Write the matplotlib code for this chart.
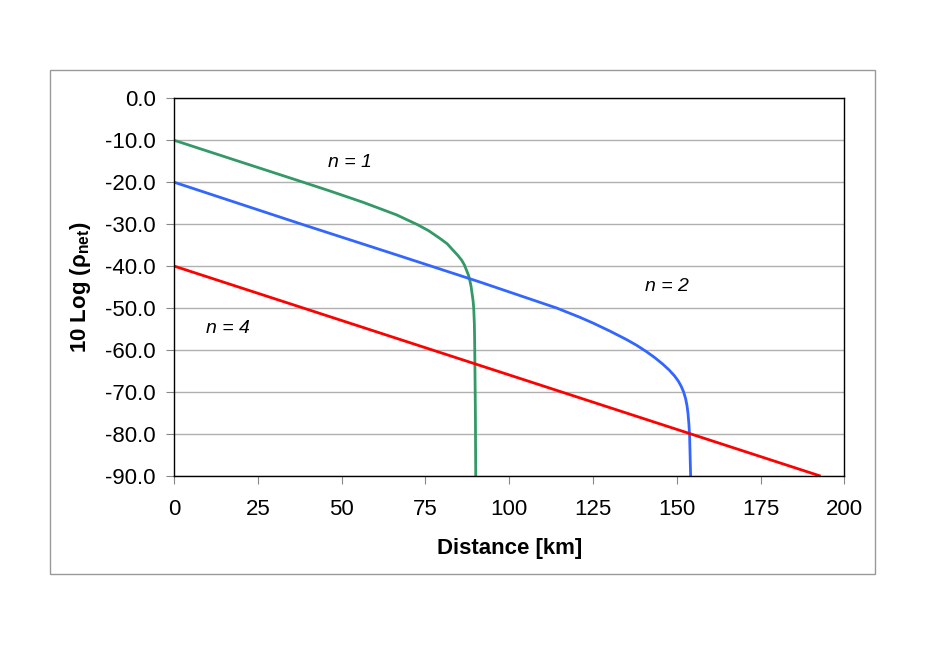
import matplotlib
matplotlib.use('Agg')
import matplotlib.pyplot as plt
from matplotlib.patches import Rectangle
from matplotlib.ticker import FormatStrFormatter, MultipleLocator

plt.rcParams['font.family'] = ['Liberation Sans', 'DejaVu Sans']
plt.rcParams['mathtext.fontset'] = 'custom'
plt.rcParams['mathtext.rm'] = 'Liberation Sans'
plt.rcParams['mathtext.bf'] = 'Liberation Sans:bold'
plt.rcParams['axes.unicode_minus'] = False

# curves: distance [km] vs 10 log(rho_net)
n1_km = [0, 20, 38.5, 46.5, 56.4, 61.4, 66.4, 72.8, 76.0, 79.3, 81.5, 83.2, 84.6, 85.8, 86.6,
         87.2, 87.8, 88.2, 88.6, 88.9, 89.2, 89.4, 89.6, 89.7, 89.9, 90.0]
n1_db = [-10, -15.2, -20.0, -22.1, -24.8, -26.3, -27.8, -30.2, -31.6, -33.4, -34.7, -36.2, -37.4,
         -38.6, -39.7, -40.9, -42.1, -43.3, -44.8, -46.5, -48.2, -50.0, -54.0, -59.2, -75.0, -90]

n2_km = [0, 37.6, 67.4, 91.2, 114.1, 121.0, 125.0, 130.0, 134.9, 138.0, 140.9, 143.5, 145.8,
         147.7, 149.3, 150.4, 151.3, 152.0, 152.6, 153.0, 153.3, 153.6, 153.8, 154.1]
n2_db = [-20, -29.9, -37.6, -43.8, -50.0, -52.2, -53.6, -55.5, -57.5, -58.9, -60.4, -61.9, -63.4,
         -64.8, -66.2, -67.4, -68.7, -70.0, -71.6, -73.2, -75.0, -77.8, -80.6, -90]

n4_km = [0, 192.5]
n4_db = [-40, -90]

labels = ['n = 1', 'n = 2', 'n = 4']
label_pos = [(52.5, -15.2), (147, -45.0), (16, -54.9)]

fig = plt.figure(figsize=(9.28, 6.47), dpi=100)
fig.patches.append(Rectangle((50 / 928, 1 - 574 / 647), 825 / 928, 504 / 647,
                             transform=fig.transFigure, fill=False,
                             edgecolor='#999999', linewidth=1))
ax = fig.add_axes([174 / 928, 1 - 475.7 / 647, 670.5 / 928, 377.4 / 647])

ax.plot(n1_km, n1_db, color='#339966', lw=2)
ax.plot(n2_km, n2_db, color='#3366FF', lw=2)
ax.plot(n4_km, n4_db, color='#FF0000', lw=2)

for t, (x, y) in zip(labels, label_pos):
    ax.text(x, y, t, fontsize=14, style='italic', ha='center', va='center')

ax.set_xlim(0, 200)
ax.set_ylim(-90, 0)
ax.xaxis.set_major_locator(MultipleLocator(25))
ax.yaxis.set_major_locator(MultipleLocator(10))
ax.yaxis.set_major_formatter(FormatStrFormatter('%.1f'))
ax.grid(axis='y', color='#b0b0b0', linewidth=1)
ax.set_axisbelow(True)
for s in ax.spines.values():
    s.set_color('black')
    s.set_linewidth(1)
ax.tick_params(labelsize=16, direction='out', length=6, color='#888888')
ax.tick_params(axis='y', pad=7)
ax.tick_params(axis='x', pad=11)

ax.set_xlabel('Distance [km]', fontsize=16, fontweight='bold', va='center')
ax.xaxis.set_label_coords(0.5, -0.193)
ax.set_ylabel(r'10 Log (ρ$_{\mathbf{net}}$)', fontsize=16, fontweight='bold', va='center')
ax.yaxis.set_label_coords(-0.14, 0.5)

fig.savefig('out.png', dpi=100)
